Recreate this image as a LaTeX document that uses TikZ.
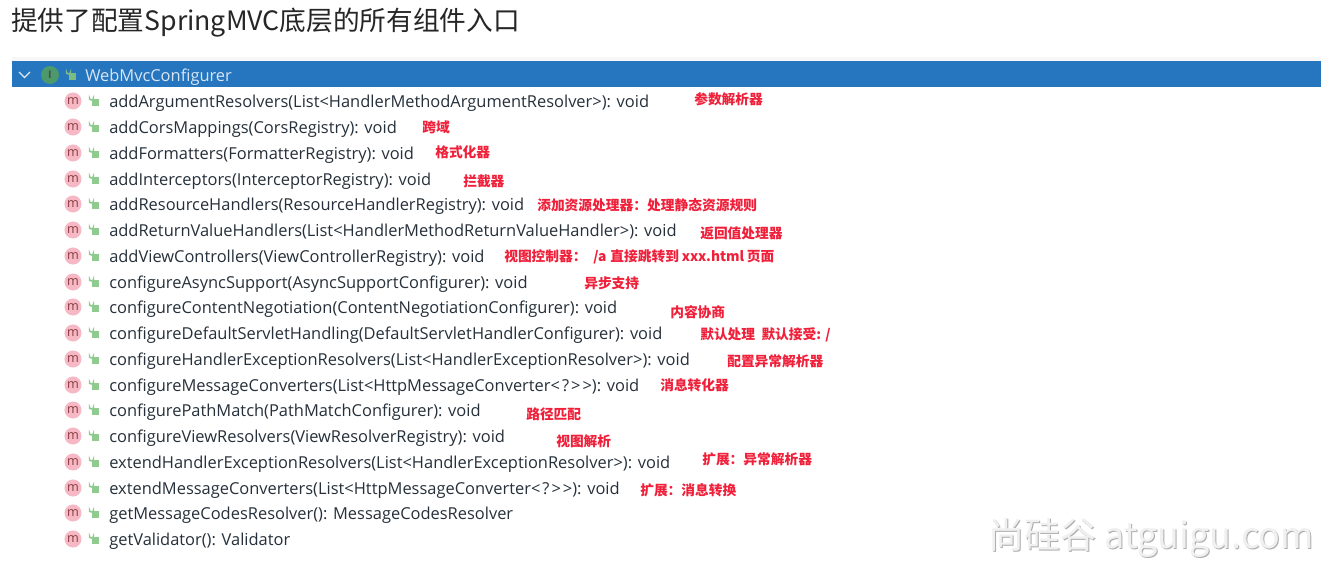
\documentclass[tikz,border=0pt]{standalone}
\usepackage{fontspec}
\setmainfont{Open Sans}[Ligatures=NoCommon]
\newfontfamily\cjkfont{Noto Sans CJK SC}
\definecolor{barblue}{HTML}{2675BF}
\definecolor{notered}{HTML}{F0203A}
\definecolor{mpink}{HTML}{F5B8C4}
\definecolor{mtext}{HTML}{8A3B3F}
\definecolor{lockgreen}{HTML}{8FCB8F}
\definecolor{igreen}{HTML}{4C9A6C}
\definecolor{rowtext}{HTML}{26303A}
\tikzset{
  methodicon/.style={circle, fill=mpink, text=mtext, minimum size=12.8pt, inner sep=0, font=\fontsize{9.5}{9.5}\selectfont},
  methodtxt/.style={anchor=west, inner sep=0, yshift=-1.3pt, text=rowtext, font=\fontsize{12.33}{14}\selectfont},
  notetxt/.style={anchor=west, inner sep=0, yshift=-0.6pt, text=notered, font=\cjkfont\bfseries\fontsize{10.3}{12}\selectfont},
  lockicon/.pic={
    \fill (-2,-2) rectangle (5,5);
    \draw[line width=1.1pt] (-4.5,-1) -- (-4.5,-3) arc (180:0:2) -- (-0.5,-2);
  }
}
% one row of the member list: icon, lock, signature
\newcommand{\methodrow}[3]{
  \node[methodicon] (#1icon) at (73,#2) {m};
  \pic[lockgreen] at (94,#2) {lockicon};
  \node[methodtxt] (#1) at (109,#2) {#3};
}
\newcommand{\wildcard}{<\kern1.5pt?\kern1.5pt>\kern1.5pt>}
\newcommand{\widecolon}{\char"FF1A\relax}
\begin{document}
\begin{tikzpicture}[x=0.75pt, y=-0.75pt]
  \useasboundingbox (0,0) rectangle (1334,571);
  \fill[white] (0,0) rectangle (1334,571);

  \node[anchor=west, inner sep=0, text=black!85, font=\cjkfont\fontsize{20}{24}\selectfont] (title) at (11,23) {提供了配置SpringMVC底层的所有组件入口};

  \fill[black!3] (12,57) rectangle (1321,61);
  \fill[barblue] (12,61) rectangle (1321,87);
  \draw[white!85!barblue, line width=1pt] (19,72) -- (24.5,77.5) -- (30,72);
  \node[circle, fill=igreen, text=black!70, minimum size=13.5pt, inner sep=0, font=\bfseries\fontsize{8}{8}\selectfont] (ifaceicon) at (50,75) {I};
  \pic[lockgreen!70!igreen] at (71,75) {lockicon};
  \node[methodtxt, text=white!82!barblue] (iface) at (85,75) {WebMvcConfigurer};

  \methodrow{argres}{101}{addArgumentResolvers(List<HandlerMethodArgumentResolver>): void}
  \methodrow{cors}{127}{addCorsMappings(CorsRegistry): void}
  \methodrow{formatters}{153}{addFormatters(FormatterRegistry): void}
  \methodrow{interceptors}{179}{addInterceptors(InterceptorRegistry): void}
  \methodrow{reshandlers}{204}{addResourceHandlers(ResourceHandlerRegistry): void}
  \methodrow{retvalue}{230}{addReturnValueHandlers(List<HandlerMethodReturnValueHandler>): void}
  \methodrow{viewctrl}{256}{addViewControllers(ViewControllerRegistry): void}
  \methodrow{asyncsup}{282}{configureAsyncSupport(AsyncSupportConfigurer): void}
  \methodrow{negotiation}{307}{configureContentNegotiation(ContentNegotiationConfigurer): void}
  \methodrow{defservlet}{333}{configureDefaultServletHandling(DefaultServletHandlerConfigurer): void}
  \methodrow{excres}{359}{configureHandlerExceptionResolvers(List<HandlerExceptionResolver>): void}
  \methodrow{msgconv}{385}{configureMessageConverters(List<HttpMessageConverter\wildcard): void}
  \methodrow{pathmatch}{410}{configurePathMatch(PathMatchConfigurer): void}
  \methodrow{viewres}{436}{configureViewResolvers(ViewResolverRegistry): void}
  \methodrow{extexc}{462}{extendHandlerExceptionResolvers(List<HandlerExceptionResolver>): void}
  \methodrow{extmsg}{488}{extendMessageConverters(List<HttpMessageConverter\wildcard): void}
  \methodrow{msgcodes}{513}{getMessageCodesResolver(): MessageCodesResolver}
  \methodrow{validator}{539}{getValidator(): Validator}

  % red remarks
  \node[notetxt] (n1) at (694,98) {参数解析器};
  \node[notetxt] (n2) at (422,127) {跨域};
  \node[notetxt] (n3) at (435,151) {格式化器};
  \node[notetxt] (n4) at (463,180) {拦截器};
  \node[notetxt] (n5) at (537,204) {添加资源处理器\widecolon 处理静态资源规则};
  \node[notetxt] (n6) at (700,233) {返回值处理器};
  \node[notetxt] (n7) at (504,256) {视图控制器\widecolon\kern5pt /a\kern3pt 直接跳转到\kern2pt xxx.html\kern2pt 页面};
  \node[notetxt] (n8) at (584,282) {异步支持};
  \node[notetxt] (n9) at (670,311) {内容协商};
  \node[notetxt] (n10) at (700,334) {默认处理\ \ 默认接受: /};
  \node[notetxt] (n11) at (727,360) {配置异常解析器};
  \node[notetxt] (n12) at (660,384) {消息转化器};
  \node[notetxt] (n13) at (526,413) {路径匹配};
  \node[notetxt] (n14) at (556,440) {视图解析};
  \node[notetxt] (n15) at (702,459) {扩展\widecolon 异常解析器};
  \node[notetxt] (n16) at (640,489) {扩展\widecolon 消息转换};

  % watermark
  \node[anchor=west, inner sep=0, text=black!32, font=\cjkfont\fontsize{27}{30}\selectfont] (markshade) at (989,539) {尚硅谷 atguigu.com};
  \node[anchor=west, inner sep=0, text=black!6, font=\cjkfont\fontsize{27}{30}\selectfont] (mark) at (988,538) {尚硅谷 atguigu.com};
\end{tikzpicture}
\end{document}
